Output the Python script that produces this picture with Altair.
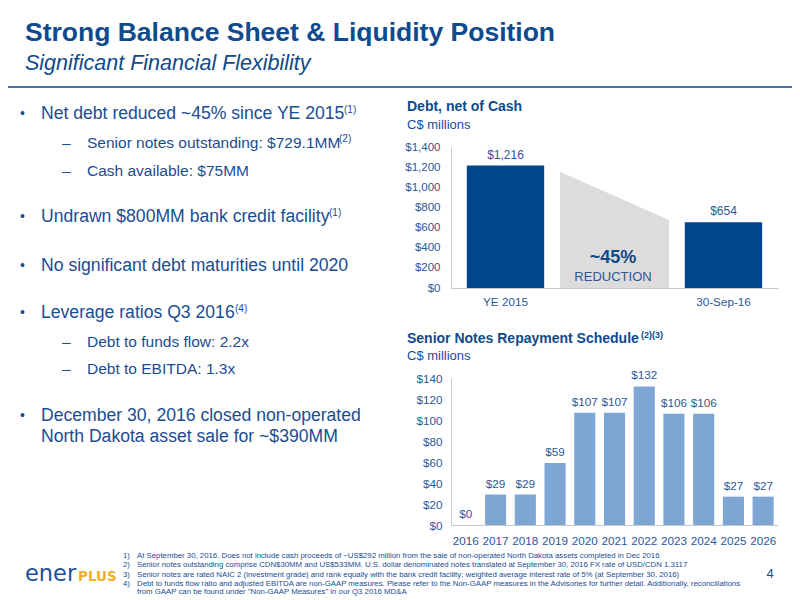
import altair as alt
import pandas as pd

# ---------------- data ----------------
debt_periods = ["YE 2015", "30-Sep-16"]
debt_values = [1216, 654]
debt_axis_slots = ["YE 2015", " ", "30-Sep-16"]
debt_ticks = [0, 200, 400, 600, 800, 1000, 1200, 1400]
reduction_slot = [1.0, 2.0]          # the empty middle slot of the category axis
reduction_values = [1155, 675]       # top edge of the grey wedge
reduction_pct = "~45%"
reduction_word = "REDUCTION"

note_years = ["2016", "2017", "2018", "2019", "2020", "2021",
              "2022", "2023", "2024", "2025", "2026"]
note_values = [0, 29, 29, 59, 107, 107, 132, 106, 106, 27, 27]
note_ticks = [0, 20, 40, 60, 80, 100, 120, 140]

slide_title = "Strong Balance Sheet & Liquidity Position"
slide_subtitle = "Significant Financial Flexibility"
top_title = "Debt, net of Cash"
bottom_title = "Senior Notes Repayment Schedule"
bottom_title_sup = "(2)(3)"
units = "C$ millions"

bullet_kinds = ["main", "sub", "sub", "main", "main", "main", "sub", "sub", "main", "cont"]
bullet_texts = [
    "Net debt reduced ~45% since YE 2015",
    "Senior notes outstanding: $729.1MM",
    "Cash available: $75MM",
    "Undrawn $800MM bank credit facility",
    "No significant debt maturities until 2020",
    "Leverage ratios Q3 2016",
    "Debt to funds flow: 2.2x",
    "Debt to EBITDA: 1.3x",
    "December 30, 2016 closed non-operated",
    "North Dakota asset sale for ~$390MM",
]
bullet_sups = ["(1)", "(2)", "", "(1)", "", "(4)", "", "", "", ""]

footnote_nums = ["1)", "2)", "3)", "4)", ""]
footnote_texts = [
    "At September 30, 2016. Does not include cash proceeds of ~US$292 million from the sale of non-operated North Dakota assets completed in Dec 2016",
    "Senior notes outstanding comprise CDN$30MM and US$533MM. U.S. dollar denominated notes translated at September 30, 2016 FX rate of USD/CDN 1.3117",
    "Senior notes are rated NAIC 2 (investment grade) and rank equally with the bank credit facility; weighted average interest rate of 5% (at September 30, 2016)",
    "Debt to funds flow ratio and adjusted EBITDA are non-GAAP measures. Please refer to the Non-GAAP measures in the Advisories for further detail. Additionally, reconciliations",
    "from GAAP can be found under \"Non-GAAP Measures\" in our Q3 2016 MD&A",
]
page_number = "4"

# ---------------- layout / style ----------------
W, H, M = 784, 590, 8
FONT = "Liberation Sans, Arial, Helvetica, sans-serif"
TITLE_C = "#0E4A8C"
TEXT_C = "#1A4C92"
AXIS_LBL = "#2B5898"
BAR_DARK = "#00468C"
BAR_LIGHT = "#7EA6D5"
GREY = "#DCDCDC"
AXIS_LINE = "#C3C9D4"
GOLD = "#F0B024"


def px(v):
    return v - M


TOP_X = [px(451), px(778)]
TOP_Y = [px(288), px(147)]
BOT_X = [px(451), px(778)]
BOT_Y = [px(525), px(378)]

one = pd.DataFrame({"k": [0]})


def txt(s, x, y, size, color=TEXT_C, weight="normal", style="normal",
        align="left", font=FONT, baseline="middle"):
    return alt.Chart(one).mark_text(
        text=s, align=align, baseline=baseline, fontSize=size,
        fontWeight=weight, fontStyle=style, color=color, font=font
    ).encode(x=alt.value(px(x)), y=alt.value(px(y)))


layers = []

# header
layers.append(txt(slide_title, 25, 33, 26.5, color=TITLE_C, weight="bold"))
layers.append(txt(slide_subtitle, 25, 64, 21.5, color=TITLE_C, style="italic"))
layers.append(alt.Chart(one).mark_rule(color=TITLE_C, strokeWidth=1.5).encode(
    x=alt.value(0), x2=alt.value(W), y=alt.value(px(87))))

# bullets
bullet_y = [114, 143, 171, 217, 266, 313, 342, 369, 416, 437]
sup_x = [344, 339, 329, 0, 0, 235, 0, 0, 0, 0]
sup_x = [344, 339, 0, 329, 0, 235, 0, 0, 0, 0]
for kind, t, sup, y, sx in zip(bullet_kinds, bullet_texts, bullet_sups, bullet_y, sup_x):
    if kind == "main":
        layers.append(txt("•", 20, y, 14))
        layers.append(txt(t, 41, y, 17.6))
    elif kind == "cont":
        layers.append(txt(t, 41, y, 17.6))
    else:
        layers.append(txt("–", 62, y, 15.5))
        layers.append(txt(t, 87, y, 15.5))
    if sup:
        layers.append(txt(sup, sx, y - 4, 10))

# top chart titles
layers.append(txt(top_title, 407, 107, 14, color=TITLE_C, weight="bold"))
layers.append(txt(units, 407, 125, 13))

# grey reduction wedge
red_df = pd.DataFrame({"slot": reduction_slot, "value": reduction_values})
layers.append(alt.Chart(red_df).mark_area(color=GREY).encode(
    x=alt.X("slot:Q", scale=alt.Scale(domain=[0, 3], range=TOP_X, nice=False, zero=False), axis=None),
    y=alt.Y("value:Q", scale=alt.Scale(domain=[0, 1400], range=TOP_Y, nice=False), axis=None),
))
layers.append(txt(reduction_pct, 613, 258, 18, color=TITLE_C, weight="bold", align="center"))
layers.append(txt(reduction_word, 613, 277, 13, color=AXIS_LBL, align="center"))

debt_df = pd.DataFrame({"period": debt_periods, "value": debt_values})
top_xscale = alt.Scale(domain=debt_axis_slots, range=TOP_X, paddingInner=0.29, paddingOuter=0.145)
top_yscale = alt.Scale(domain=[0, 1400], range=TOP_Y, nice=False)
layers.append(alt.Chart(debt_df).mark_bar(color=BAR_DARK).encode(
    x=alt.X("period:N", scale=top_xscale, axis=alt.Axis(
        orient="bottom", offset=TOP_Y[0] - H, title=None, labelAngle=0, ticks=False,
        grid=False, domainColor=AXIS_LINE, labelColor=AXIS_LBL, labelFont=FONT,
        labelFontSize=11.7, labelPadding=8)),
    y=alt.Y("value:Q", scale=top_yscale, axis=alt.Axis(
        orient="left", offset=-TOP_X[0], values=debt_ticks, format="$,.0f", title=None,
        ticks=False, grid=False, domainColor=AXIS_LINE, labelColor=AXIS_LBL,
        labelFont=FONT, labelFontSize=11.5, labelPadding=11)),
))
layers.append(alt.Chart(debt_df).mark_text(
    baseline="alphabetic", dy=-7, fontSize=12, font=FONT, color=AXIS_LBL
).encode(
    x=alt.X("period:N", scale=top_xscale, axis=None),
    y=alt.Y("value:Q", scale=top_yscale, axis=None),
    text=alt.Text("value:Q", format="$,.0f"),
))

# bottom chart
layers.append(txt(bottom_title, 407, 339, 14, color=TITLE_C, weight="bold"))
layers.append(txt(bottom_title_sup, 641, 335, 9, color=TITLE_C, weight="bold"))
layers.append(txt(units, 407, 356, 13))

note_df = pd.DataFrame({"year": note_years, "value": note_values})
bot_xscale = alt.Scale(domain=note_years, range=BOT_X, paddingInner=0.29, paddingOuter=0.145)
bot_yscale = alt.Scale(domain=[0, 140], range=BOT_Y, nice=False)
layers.append(alt.Chart(note_df).mark_bar(color=BAR_LIGHT).encode(
    x=alt.X("year:N", scale=bot_xscale, axis=alt.Axis(
        orient="bottom", offset=BOT_Y[0] - H, title=None, labelAngle=0, ticks=False,
        grid=False, domainColor=AXIS_LINE, labelColor=AXIS_LBL, labelFont=FONT,
        labelFontSize=11.7, labelPadding=10)),
    y=alt.Y("value:Q", scale=bot_yscale, axis=alt.Axis(
        orient="left", offset=-BOT_X[0], values=note_ticks, format="$,.0f", title=None,
        ticks=False, grid=False, domainColor=AXIS_LINE, labelColor=AXIS_LBL,
        labelFont=FONT, labelFontSize=11.7, labelPadding=9)),
))
layers.append(alt.Chart(note_df).mark_text(
    baseline="alphabetic", dy=-7, fontSize=11.7, font=FONT, color=AXIS_LBL
).encode(
    x=alt.X("year:N", scale=bot_xscale, axis=None),
    y=alt.Y("value:Q", scale=bot_yscale, axis=None),
    text=alt.Text("value:Q", format="$,.0f"),
))

# footnotes
foot_y = [556, 565, 574.5, 583.5, 592]
for n, t, y in zip(footnote_nums, footnote_texts, foot_y):
    if n:
        layers.append(txt(n, 123, y, 7.8))
    layers.append(txt(t, 137, y, 7.8))

# logo + page number
layers.append(txt("ener", 25, 581, 22.5, color="#1C4F9C", font="DejaVu Sans", baseline="alphabetic"))
layers.append(txt("PLUS", 78, 580.5, 13.5, color=GOLD, weight="bold", font="DejaVu Sans", baseline="alphabetic"))
layers.append(txt(page_number, 770, 574, 13, align="center"))

chart = alt.layer(*layers).resolve_scale(
    x="independent", y="independent"
).properties(
    width=W, height=H, padding=0, autosize=alt.AutoSizeParams(type="none")
).configure_view(strokeWidth=0)

chart.save("out.html", embed_options={"renderer": "svg", "actions": False})
